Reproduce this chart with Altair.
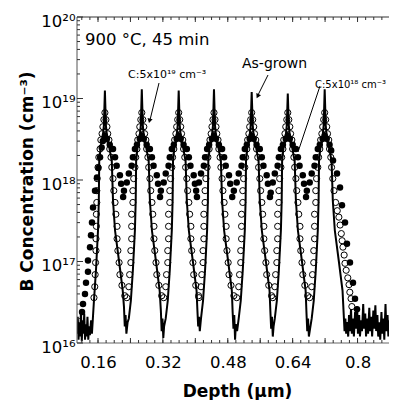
import json
import math
import altair as alt
import pandas as pd

# ---------------- data ----------------
# As-grown SIMS profile (solid line): (depth in um, B concentration in cm^-3)
asgrown = [
    # left noisy background
    (0.108, 1.3e16), (0.110, 2.1e16), (0.112, 1.1e16), (0.114, 1.8e16), (0.116, 1.2e16), (0.118, 2.5e16),
    (0.120, 1.05e16), (0.122, 1.9e16), (0.124, 1.3e16), (0.126, 2.3e16), (0.128, 1.1e16), (0.130, 1.7e16),
    (0.132, 1.2e16), (0.134, 2.1e16), (0.136, 1.1e16), (0.138, 1.6e16), (0.140, 1.25e16), (0.143, 1.9e16),
    # peak 1
    (0.145, 1.3e16), (0.150, 3.3e16), (0.155, 7.8e16), (0.160, 2.4e17), (0.162, 5.6e17), (0.163, 1.7e18),
    (0.167, 2.65e18), (0.172, 3.5e18), (0.1745, 4.7e18), (0.177, 1.25e19), (0.1795, 4.7e18), (0.182, 3.5e18),
    (0.187, 2.65e18), (0.194, 1.7e18), (0.197, 5.6e17), (0.202, 2.4e17), (0.212, 1.0e17), (0.221, 4.4e16),
    (0.224, 2.8e16), (0.226, 1.6e16), (0.228, 2.2e16), (0.230, 1.3e16),
    # peak 2
    (0.233, 1.8e16), (0.236, 2.0e16), (0.241, 3.3e16), (0.246, 7.8e16), (0.251, 2.4e17), (0.253, 5.6e17),
    (0.254, 1.7e18), (0.258, 2.65e18), (0.263, 3.5e18), (0.2655, 4.7e18), (0.268, 1.3e19), (0.2705, 4.7e18),
    (0.273, 3.5e18), (0.278, 2.65e18), (0.285, 1.7e18), (0.288, 5.6e17), (0.293, 2.4e17), (0.303, 1.0e17),
    (0.312, 4.4e16), (0.315, 2.5e16), (0.317, 1.4e16), (0.319, 2.0e16), (0.321, 1.15e16), (0.323, 1.6e16),
    # peak 3
    (0.327, 2.0e16), (0.332, 3.3e16), (0.337, 7.8e16), (0.342, 2.4e17), (0.344, 5.6e17), (0.345, 1.7e18),
    (0.349, 2.65e18), (0.354, 3.5e18), (0.3565, 4.7e18), (0.359, 1.25e19), (0.3615, 4.7e18), (0.364, 3.5e18),
    (0.369, 2.65e18), (0.376, 1.7e18), (0.379, 5.6e17), (0.384, 2.4e17), (0.394, 1.0e17), (0.403, 4.4e16),
    (0.405, 2.6e16), (0.407, 1.6e16), (0.409, 2.1e16), (0.411, 1.4e16),
    # peak 4
    (0.414, 2.0e16), (0.419, 3.3e16), (0.424, 7.8e16), (0.429, 2.4e17), (0.431, 5.6e17), (0.432, 1.7e18),
    (0.436, 2.65e18), (0.441, 3.5e18), (0.4435, 4.7e18), (0.446, 1.3e19), (0.4485, 4.7e18), (0.451, 3.5e18),
    (0.456, 2.65e18), (0.463, 1.7e18), (0.466, 5.6e17), (0.471, 2.4e17), (0.481, 1.0e17), (0.490, 4.4e16),
    (0.492, 2.4e16), (0.494, 1.5e16), (0.496, 2.2e16), (0.498, 1.1e16), (0.500, 1.7e16),
    # peak 5
    (0.503, 1.4e16), (0.507, 2.0e16), (0.512, 3.3e16), (0.517, 7.8e16), (0.522, 2.4e17), (0.524, 5.6e17),
    (0.525, 1.7e18), (0.529, 2.65e18), (0.534, 3.5e18), (0.5365, 4.7e18), (0.539, 1.2e19), (0.5415, 4.7e18),
    (0.544, 3.5e18), (0.549, 2.65e18), (0.556, 1.7e18), (0.559, 5.6e17), (0.564, 2.4e17), (0.574, 1.0e17),
    (0.583, 4.4e16), (0.585, 2.5e16), (0.587, 1.5e16), (0.589, 2.1e16), (0.591, 1.2e16),
    # peak 6
    (0.593, 1.6e16), (0.596, 2.0e16), (0.601, 3.3e16), (0.606, 7.8e16), (0.611, 2.4e17), (0.613, 5.6e17),
    (0.614, 1.7e18), (0.618, 2.65e18), (0.623, 3.5e18), (0.6255, 4.7e18), (0.628, 1.15e19), (0.6305, 4.7e18),
    (0.633, 3.5e18), (0.638, 2.65e18), (0.645, 1.7e18), (0.648, 5.6e17), (0.653, 2.4e17), (0.663, 1.0e17),
    (0.672, 4.4e16), (0.674, 2.4e16), (0.676, 1.4e16), (0.678, 2.0e16), (0.680, 1.2e16),
    # peak 7
    (0.683, 1.5e16), (0.687, 2.0e16), (0.692, 3.3e16), (0.697, 7.8e16), (0.702, 2.4e17), (0.704, 5.6e17),
    (0.705, 1.7e18), (0.709, 2.65e18), (0.714, 3.5e18), (0.7165, 4.7e18), (0.719, 1.3e19), (0.7215, 4.7e18),
    (0.724, 3.5e18), (0.729, 2.65e18), (0.736, 1.7e18), (0.739, 5.6e17), (0.744, 2.4e17), (0.754, 1.0e17),
    (0.763, 4.4e16), (0.766, 2.2e16),
    # right noisy background
    (0.768, 1.4e16), (0.770, 2.0e16), (0.772, 1.3e16), (0.774, 1.8e16), (0.777, 1.2e16), (0.779, 2.2e16),
    (0.781, 1.4e16), (0.784, 2.6e16), (0.786, 1.3e16), (0.789, 2.0e16), (0.791, 1.2e16), (0.794, 2.4e16),
    (0.796, 1.5e16), (0.799, 2.8e16), (0.801, 1.3e16), (0.804, 2.2e16), (0.806, 1.2e16), (0.809, 1.9e16),
    (0.811, 1.4e16), (0.814, 3.0e16), (0.816, 1.5e16), (0.819, 2.3e16), (0.821, 1.2e16), (0.824, 2.0e16),
    (0.826, 1.3e16), (0.829, 2.7e16), (0.831, 1.4e16), (0.834, 2.1e16), (0.836, 1.2e16), (0.839, 2.5e16),
    (0.841, 1.5e16), (0.844, 2.9e16), (0.846, 1.4e16), (0.849, 2.2e16), (0.851, 1.2e16), (0.854, 1.8e16),
    (0.856, 1.1e16), (0.859, 2.4e16), (0.861, 1.3e16), (0.864, 2.0e16), (0.866, 1.1e16), (0.869, 3.0e16),
    (0.871, 1.4e16), (0.874, 2.2e16), (0.876, 1.2e16), (0.879, 1.9e16), (0.881, 1.1e16), (0.884, 2.6e16),
    (0.886, 1.3e16), (0.889, 2.1e16), (0.891, 1.2e16), (0.894, 2.4e16), (0.897, 1.5e16),
]

# C: 5x10^19 cm^-3 (open circles)
c5e19 = [
    # peak 1
    (0.177, 6.7e18), (0.1745, 5.5e18), (0.172, 4.5e18), (0.170, 3.7e18), (0.167, 3.1e18), (0.165, 2.4e18),
    (0.162, 1.9e18), (0.160, 1.43e18), (0.158, 1.04e18), (0.157, 7.4e17), (0.157, 5.3e17), (0.156, 3.8e17),
    (0.156, 2.7e17), (0.155, 1.9e17), (0.155, 1.36e17), (0.154, 9.7e16), (0.153, 6.9e16), (0.152, 4.9e16),
    (0.150, 3.6e16),
    (0.1795, 5.5e18), (0.182, 4.5e18), (0.184, 3.7e18), (0.187, 3.1e18), (0.189, 2.4e18), (0.192, 1.9e18),
    (0.194, 1.43e18), (0.197, 1.04e18), (0.199, 7.4e17), (0.202, 5.3e17), (0.204, 3.8e17), (0.207, 2.7e17),
    (0.207, 1.9e17), (0.209, 1.36e17), (0.212, 9.7e16), (0.214, 6.9e16), (0.219, 5.1e16), (0.226, 3.8e16),
    # peak 2
    (0.268, 6.7e18), (0.2655, 5.5e18), (0.263, 4.5e18), (0.261, 3.7e18), (0.258, 3.1e18), (0.256, 2.4e18),
    (0.253, 1.9e18), (0.251, 1.43e18), (0.248, 1.04e18), (0.246, 7.4e17), (0.246, 5.3e17), (0.243, 3.8e17),
    (0.243, 2.7e17), (0.243, 1.9e17), (0.241, 1.36e17), (0.241, 9.7e16), (0.238, 6.9e16), (0.236, 4.9e16),
    (0.231, 3.6e16),
    (0.2705, 5.5e18), (0.273, 4.5e18), (0.275, 3.7e18), (0.278, 3.1e18), (0.280, 2.4e18), (0.283, 1.9e18),
    (0.285, 1.43e18), (0.288, 1.04e18), (0.290, 7.4e17), (0.293, 5.3e17), (0.295, 3.8e17), (0.298, 2.7e17),
    (0.298, 1.9e17), (0.300, 1.36e17), (0.303, 9.7e16), (0.305, 6.9e16), (0.310, 5.1e16), (0.317, 3.8e16),
    # peak 3
    (0.359, 6.7e18), (0.3565, 5.5e18), (0.354, 4.5e18), (0.352, 3.7e18), (0.349, 3.1e18), (0.347, 2.4e18),
    (0.344, 1.9e18), (0.342, 1.43e18), (0.339, 1.04e18), (0.337, 7.4e17), (0.337, 5.3e17), (0.334, 3.8e17),
    (0.334, 2.7e17), (0.334, 1.9e17), (0.332, 1.36e17), (0.332, 9.7e16), (0.329, 6.9e16), (0.327, 4.9e16),
    (0.322, 3.6e16),
    (0.3615, 5.5e18), (0.364, 4.5e18), (0.366, 3.7e18), (0.369, 3.1e18), (0.371, 2.4e18), (0.374, 1.9e18),
    (0.376, 1.43e18), (0.379, 1.04e18), (0.381, 7.4e17), (0.384, 5.3e17), (0.386, 3.8e17), (0.389, 2.7e17),
    (0.389, 1.9e17), (0.391, 1.36e17), (0.394, 9.7e16), (0.396, 6.9e16), (0.401, 5.1e16), (0.408, 3.8e16),
    # peak 4
    (0.446, 6.7e18), (0.4435, 5.5e18), (0.441, 4.5e18), (0.439, 3.7e18), (0.436, 3.1e18), (0.434, 2.4e18),
    (0.431, 1.9e18), (0.429, 1.43e18), (0.426, 1.04e18), (0.424, 7.4e17), (0.424, 5.3e17), (0.421, 3.8e17),
    (0.421, 2.7e17), (0.421, 1.9e17), (0.419, 1.36e17), (0.419, 9.7e16), (0.416, 6.9e16), (0.414, 4.9e16),
    (0.409, 3.6e16),
    (0.4485, 5.5e18), (0.451, 4.5e18), (0.453, 3.7e18), (0.456, 3.1e18), (0.458, 2.4e18), (0.461, 1.9e18),
    (0.463, 1.43e18), (0.466, 1.04e18), (0.468, 7.4e17), (0.471, 5.3e17), (0.473, 3.8e17), (0.476, 2.7e17),
    (0.476, 1.9e17), (0.478, 1.36e17), (0.481, 9.7e16), (0.483, 6.9e16), (0.488, 5.1e16), (0.495, 3.8e16),
    # peak 5
    (0.539, 6.7e18), (0.5365, 5.5e18), (0.534, 4.5e18), (0.532, 3.7e18), (0.529, 3.1e18), (0.527, 2.4e18),
    (0.524, 1.9e18), (0.522, 1.43e18), (0.519, 1.04e18), (0.517, 7.4e17), (0.517, 5.3e17), (0.514, 3.8e17),
    (0.514, 2.7e17), (0.514, 1.9e17), (0.512, 1.36e17), (0.512, 9.7e16), (0.509, 6.9e16), (0.507, 4.9e16),
    (0.502, 3.6e16),
    (0.5415, 5.5e18), (0.544, 4.5e18), (0.546, 3.7e18), (0.549, 3.1e18), (0.551, 2.4e18), (0.554, 1.9e18),
    (0.556, 1.43e18), (0.559, 1.04e18), (0.561, 7.4e17), (0.564, 5.3e17), (0.566, 3.8e17), (0.569, 2.7e17),
    (0.569, 1.9e17), (0.571, 1.36e17), (0.574, 9.7e16), (0.576, 6.9e16), (0.581, 5.1e16), (0.588, 3.8e16),
    # peak 6
    (0.628, 6.7e18), (0.6255, 5.5e18), (0.623, 4.5e18), (0.621, 3.7e18), (0.618, 3.1e18), (0.616, 2.4e18),
    (0.613, 1.9e18), (0.611, 1.43e18), (0.608, 1.04e18), (0.606, 7.4e17), (0.606, 5.3e17), (0.603, 3.8e17),
    (0.603, 2.7e17), (0.603, 1.9e17), (0.601, 1.36e17), (0.601, 9.7e16), (0.598, 6.9e16), (0.596, 4.9e16),
    (0.591, 3.6e16),
    (0.6305, 5.5e18), (0.633, 4.5e18), (0.635, 3.7e18), (0.638, 3.1e18), (0.640, 2.4e18), (0.643, 1.9e18),
    (0.645, 1.43e18), (0.648, 1.04e18), (0.650, 7.4e17), (0.653, 5.3e17), (0.655, 3.8e17), (0.658, 2.7e17),
    (0.658, 1.9e17), (0.660, 1.36e17), (0.663, 9.7e16), (0.665, 6.9e16), (0.670, 5.1e16), (0.677, 3.8e16),
    # peak 7
    (0.719, 6.7e18), (0.7165, 5.5e18), (0.714, 4.5e18), (0.712, 3.7e18), (0.709, 3.1e18), (0.707, 2.4e18),
    (0.704, 1.9e18), (0.702, 1.43e18), (0.699, 1.04e18), (0.697, 7.4e17), (0.697, 5.3e17), (0.694, 3.8e17),
    (0.694, 2.7e17), (0.694, 1.9e17), (0.692, 1.36e17), (0.692, 9.7e16), (0.689, 6.9e16), (0.687, 4.9e16),
    (0.682, 3.6e16),
    (0.7215, 5.5e18), (0.724, 4.5e18), (0.726, 3.7e18), (0.729, 3.1e18), (0.731, 2.4e18), (0.734, 1.9e18),
    (0.736, 1.43e18), (0.739, 1.04e18), (0.742, 7.4e17), (0.746, 5.3e17), (0.750, 4.2e17), (0.754, 3.5e17),
    (0.757, 2.8e17), (0.760, 2.2e17), (0.762, 1.8e17), (0.764, 1.5e17), (0.767, 1.2e17), (0.769, 9.5e16),
    (0.772, 7.8e16), (0.776, 6.3e16), (0.779, 5.2e16), (0.781, 4.2e16), (0.784, 3.5e16), (0.786, 2.8e16),
]

# C: 5x10^18 cm^-3 (filled circles)
c5e18 = [
    # leading flank + peak 1
    (0.1206, 2.4e16), (0.1230, 3.0e16), (0.1279, 4.0e16), (0.1304, 5.5e16), (0.1353, 7.5e16), (0.1353, 1.03e17),
    (0.1403, 1.5e17), (0.1427, 2.1e17), (0.1452, 3.0e17), (0.1477, 4.6e17), (0.1526, 7.4e17), (0.1575, 1.07e18),
    (0.161, 1.4e18), (0.165, 1.9e18), (0.169, 2.5e18), (0.172, 3.0e18), (0.177, 3.5e18),
    (0.182, 3.2e18), (0.189, 2.7e18), (0.197, 2.4e18), (0.202, 1.9e18), (0.206, 1.5e18), (0.214, 1.14e18),
    (0.217, 9.0e17), (0.222, 6.2e17),
    # peak 2
    (0.224, 7.4e17), (0.231, 9.3e17), (0.236, 1.2e18), (0.243, 1.5e18), (0.246, 1.9e18), (0.251, 2.4e18),
    (0.256, 2.7e18), (0.263, 3.2e18), (0.268, 3.5e18), (0.273, 3.2e18), (0.280, 2.7e18), (0.288, 2.4e18),
    (0.293, 1.9e18), (0.297, 1.5e18), (0.305, 1.14e18), (0.308, 9.0e17), (0.313, 6.2e17),
    # peak 3
    (0.315, 7.4e17), (0.322, 9.3e17), (0.327, 1.2e18), (0.334, 1.5e18), (0.337, 1.9e18), (0.342, 2.4e18),
    (0.347, 2.7e18), (0.354, 3.2e18), (0.359, 3.5e18), (0.364, 3.2e18), (0.371, 2.7e18), (0.379, 2.4e18),
    (0.384, 1.9e18), (0.388, 1.5e18), (0.396, 1.14e18), (0.399, 9.0e17), (0.404, 6.2e17),
    # peak 4
    (0.402, 7.4e17), (0.409, 9.3e17), (0.414, 1.2e18), (0.421, 1.5e18), (0.424, 1.9e18), (0.429, 2.4e18),
    (0.434, 2.7e18), (0.441, 3.2e18), (0.446, 3.5e18), (0.451, 3.2e18), (0.458, 2.7e18), (0.466, 2.4e18),
    (0.471, 1.9e18), (0.475, 1.5e18), (0.483, 1.14e18), (0.486, 9.0e17), (0.491, 6.2e17),
    # peak 5
    (0.495, 7.4e17), (0.502, 9.3e17), (0.507, 1.2e18), (0.514, 1.5e18), (0.517, 1.9e18), (0.522, 2.4e18),
    (0.527, 2.7e18), (0.534, 3.2e18), (0.539, 3.5e18), (0.544, 3.2e18), (0.551, 2.7e18), (0.559, 2.4e18),
    (0.564, 1.9e18), (0.568, 1.5e18), (0.576, 1.14e18), (0.579, 9.0e17), (0.584, 6.2e17),
    # peak 6
    (0.586, 7.0e17), (0.591, 9.3e17), (0.596, 1.2e18), (0.603, 1.5e18), (0.606, 1.9e18), (0.611, 2.4e18),
    (0.616, 2.7e18), (0.623, 3.2e18), (0.628, 3.5e18), (0.633, 3.2e18), (0.640, 2.7e18), (0.648, 2.4e18),
    (0.653, 1.9e18), (0.657, 1.5e18), (0.665, 1.14e18), (0.668, 9.0e17), (0.673, 6.2e17),
    # peak 7 + trailing flank
    (0.675, 7.4e17), (0.682, 9.3e17), (0.687, 1.2e18), (0.694, 1.5e18), (0.697, 1.9e18), (0.702, 2.4e18),
    (0.707, 2.7e18), (0.714, 3.2e18), (0.719, 3.5e18), (0.724, 3.2e18), (0.731, 2.7e18), (0.735, 2.3e18),
    (0.7395, 1.73e18), (0.7494, 1.2e18), (0.7568, 8.1e17), (0.7617, 4.9e17), (0.7691, 3.0e17), (0.7740, 1.65e17),
    (0.7814, 9.7e16), (0.7888, 5.5e16), (0.7938, 3.5e16), (0.7987, 2.6e16),
]

x_tick_values = [0.16, 0.32, 0.48, 0.64, 0.8]
y_tick_values = [1e16, 1e17, 1e18, 1e19, 1e20]
y_tick_labels = ["10\u00b9\u2076", "10\u00b9\u2077", "10\u00b9\u2078", "10\u00b9\u2079", "10\u00b2\u2070"]
x_title = "Depth (\u00b5m)"
y_title = "B Concentration (cm\u207b\u00b3)"
note_texts = ["900 \u00b0C, 45 min", "C:5x10\u00b9\u2079 cm\u207b\u00b3", "As-grown", "C:5x10\u00b9\u2078 cm\u207b\u00b3"]

# ---------------- chart ----------------
FONT = "DejaVu Sans"
W, H = 312, 326

df_line = pd.DataFrame(asgrown, columns=["depth", "conc"])
df_line["idx"] = range(len(df_line))
df_open = pd.DataFrame(c5e19, columns=["depth", "conc"])
df_fill = pd.DataFrame(c5e18, columns=["depth", "conc"])

xs = alt.Scale(domain=[0.1082, 0.8776], nice=False, zero=False)
ys = alt.Scale(type="log", domain=[1e16, 1e20], nice=False)

label_expr = json.dumps(y_tick_labels, ensure_ascii=False) + \
    "[round(log(datum.value)/LN10) - %d]" % round(math.log10(y_tick_values[0]))

xaxis = alt.Axis(values=x_tick_values, labelExpr="format(datum.value, '.2~f')", title=x_title,
                 ticks=False, tickSize=0,
                 domain=False, grid=False, labelFont=FONT, labelFontSize=16.5, labelColor="black",
                 labelPadding=24, labelBaseline="alphabetic", labelFlush=False, labelOverlap=False,
                 titleFont=FONT, titleFontSize=17, titleFontWeight="bold", titleColor="black",
                 titleX=160, titleY=53, titleBaseline="alphabetic")
yaxis = alt.Axis(values=y_tick_values, labelExpr=label_expr, title=y_title, ticks=False, tickSize=0,
                 domain=False, grid=False, labelFont=FONT, labelFontSize=16.5, labelColor="black",
                 labelPadding=2, labelBaseline="alphabetic", labelOffset=9, labelFlush=False,
                 labelOverlap=False, titleFont=FONT, titleFontSize=17, titleFontWeight="bold",
                 titleColor="black", titleX=-45, titleY=164, titleBaseline="alphabetic")

X = alt.X("depth:Q", scale=xs, axis=xaxis)
Y = alt.Y("conc:Q", scale=ys, axis=yaxis)

filled = alt.Chart(df_fill).mark_point(shape="circle", filled=True, color="black", size=42,
                                       opacity=1, clip=True).encode(x=X, y=Y)
opened = alt.Chart(df_open).mark_point(shape="circle", filled=False, color="black", size=38,
                                       strokeWidth=1, opacity=1, clip=True).encode(x=X, y=Y)
line = alt.Chart(df_line).mark_line(color="black", strokeWidth=2, clip=True).encode(
    x=X, y=Y, order="idx:Q")

# frame (left, top, bottom) and inward ticks
y_minor = [k * 10.0 ** e for e in range(16, 20) for k in range(2, 10)]
x_major = [round(0.16 + 0.08 * i, 2) for i in range(9)]
x_minor = [round(0.12 + 0.02 * i, 2) for i in range(38)]

def yticks(vals, length):
    return alt.Chart(pd.DataFrame({"conc": vals})).mark_rule(color="#333", strokeWidth=1).encode(
        y=Y, x=alt.value(0), x2=alt.value(length))

def xticks(vals, y0, y1):
    return alt.Chart(pd.DataFrame({"depth": vals})).mark_rule(
        color="#333", strokeWidth=1, clip=True).encode(x=X, y=alt.value(y0), y2=alt.value(y1))

def seg(x1, y1, x2, y2, color="black"):
    return alt.Chart(pd.DataFrame({"a": [0]})).mark_rule(color=color, strokeWidth=1).encode(
        x=alt.value(x1), y=alt.value(y1), x2=alt.value(x2), y2=alt.value(y2))

frame = [seg(0, 0, W, 0, "#333"), seg(0, 0, 0, H, "#555"), seg(0, H, W, H, "#666")]
ticks = [yticks(y_tick_values, 6), yticks(y_minor, 3),
         xticks(x_major, 0, 5), xticks(x_minor, 0, 3),
         xticks(x_major, H, H - 5), xticks(x_minor, H, H - 3)]

def note(text, x, y, size):
    return alt.Chart(pd.DataFrame({"t": [text]})).mark_text(
        align="left", baseline="alphabetic", font=FONT, fontSize=size, color="black").encode(
        x=alt.value(x), y=alt.value(y), text="t:N")

def head(x, y, ang):
    return alt.Chart(pd.DataFrame({"a": [0]})).mark_point(
        shape="triangle", filled=True, color="black", size=28, angle=ang, opacity=1).encode(
        x=alt.value(x), y=alt.value(y))

notes = [
    note(note_texts[0], 8, 28, 16.5),
    note(note_texts[1], 51, 61, 11),
    note(note_texts[2], 165, 51, 14),
    note(note_texts[3], 238, 71, 10),
    seg(82, 66, 73, 103), head(72.7, 103, 194),
    seg(191, 58, 181, 78), head(181, 78.5, 206),
    seg(243, 69, 221, 135),
]

chart = alt.layer(filled, opened, line, *frame, *ticks, *notes).properties(
    width=W, height=H,
    autosize=alt.AutoSizeParams(type="none"),
    padding={"left": 69, "top": 9, "right": 0, "bottom": 57},
    background="white",
).configure_view(stroke=None)

chart.save("out.html", embed_options={"renderer": "svg", "actions": False})
